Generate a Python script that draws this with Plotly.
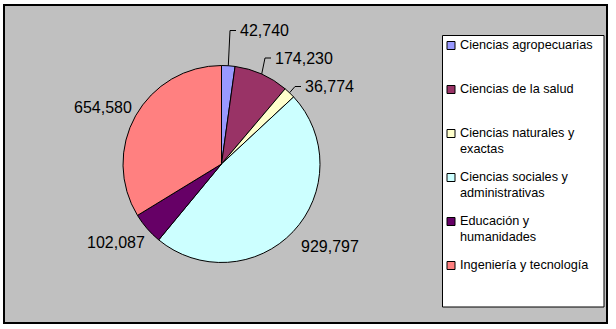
import math
import plotly.graph_objects as go

# Matrícula por área de conocimiento
categories = [
    "Ciencias agropecuarias",
    "Ciencias de la salud",
    "Ciencias naturales y exactas",
    "Ciencias sociales y administrativas",
    "Educación y humanidades",
    "Ingeniería y tecnología",
]
values = [42740, 174230, 36774, 929797, 102087, 654580]
legend_lines = [
    ["Ciencias agropecuarias"],
    ["Ciencias de la salud"],
    ["Ciencias naturales y", "exactas"],
    ["Ciencias sociales y", "administrativas"],
    ["Educación y", "humanidades"],
    ["Ingeniería y tecnología"],
]
colors = ["#9999FF", "#993366", "#FFFFCC", "#CCFFFF", "#660066", "#FF8080"]

W, H = 616, 329
FONT = "Liberation Sans, Arial, sans-serif"

# pie geometry in pixels
cx, cy, r = 221.5, 164.0, 98.5

# label text anchor points (left edge x, middle y) and whether a leader line is drawn
label_pos = [
    (238, 30.5, True),
    (273, 58, True),
    (303, 86.5, True),
    (299, 246.5, False),
    (85, 242, False),
    (72, 107, False),
]

fig = go.Figure()

# chart area
shapes = [
    dict(type="rect", xref="x", yref="y", x0=4, y0=5, x1=607, y1=323,
         fillcolor="#C0C0C0", line=dict(color="black", width=2), layer="below"),
    # legend frame
    dict(type="rect", xref="x", yref="y", x0=442.5, y0=35.5, x1=604, y1=307,
         fillcolor="white", line=dict(color="black", width=1), layer="below"),
]

fig.add_trace(go.Pie(
    labels=categories,
    values=values,
    sort=False,
    direction="clockwise",
    rotation=0,
    marker=dict(colors=colors, line=dict(color="black", width=1)),
    textinfo="none",
    hoverinfo="label+value",
    showlegend=False,
    domain=dict(x=[(cx - r) / W, (cx + r) / W],
                y=[1 - (cy + r) / H, 1 - (cy - r) / H]),
))

annotations = []
total = sum(values)
cum = 0.0
for v, (tx, ty, leader) in zip(values, label_pos):
    mid = (cum + v / 2) / total * 2 * math.pi
    cum += v
    ex, ey = cx + r * math.sin(mid), cy - r * math.cos(mid)
    if leader:
        end_x = tx - 2
        elbow_x = end_x - 6
        shapes.append(dict(type="path", xref="x", yref="y",
                           path=f"M{ex:.1f},{ey:.1f} L{elbow_x:.1f},{ty} L{end_x:.1f},{ty}",
                           line=dict(color="black", width=1)))
    annotations.append(dict(
        x=tx, y=ty, xref="x", yref="y", xanchor="left", yanchor="middle",
        text=f"{v:,}", showarrow=False,
        font=dict(family=FONT, size=16, color="black"),
    ))

# legend entries
item_y0, item_step, line_step = 45, 44, 15.5
for i, (lines, col) in enumerate(zip(legend_lines, colors)):
    y = item_y0 + i * item_step
    shapes.append(dict(type="rect", xref="x", yref="y",
                       x0=447, y0=y - 3.5, x1=455, y1=y + 4.5,
                       fillcolor=col, line=dict(color="black", width=1)))
    for j, t in enumerate(lines):
        annotations.append(dict(
            x=457.5, y=y + j * line_step, xref="x", yref="y",
            xanchor="left", yanchor="middle", text=t, showarrow=False,
            font=dict(family=FONT, size=12.7, color="black"),
        ))

fig.update_layout(
    width=W, height=H,
    margin=dict(l=0, r=0, t=0, b=0),
    paper_bgcolor="white",
    plot_bgcolor="rgba(0,0,0,0)",
    xaxis=dict(range=[0, W], visible=False, fixedrange=True),
    yaxis=dict(range=[H, 0], visible=False, fixedrange=True),
    shapes=shapes,
    annotations=annotations,
    showlegend=False,
)

fig.write_html("out.html")
